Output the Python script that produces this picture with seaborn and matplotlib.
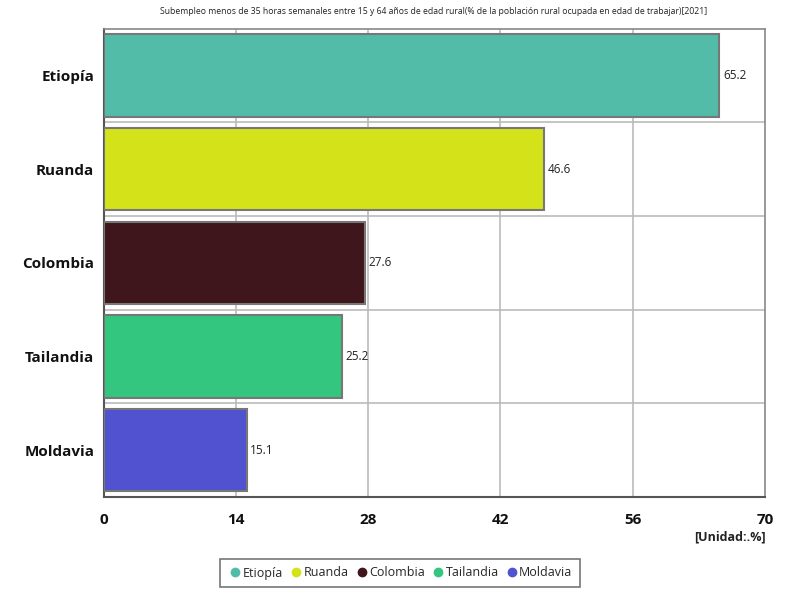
import matplotlib
matplotlib.use("Agg")
import matplotlib.pyplot as plt
import seaborn as sns
import pandas as pd
from matplotlib.lines import Line2D

countries = ["Etiopía", "Ruanda", "Colombia", "Tailandia", "Moldavia"]
values = [65.2, 46.6, 27.6, 25.2, 15.1]
colors = ["#52BCA9", "#D4E21A", "#3E161C", "#33C67E", "#5052CF"]
xticks = [0, 14, 28, 42, 56, 70]
title = "Subempleo menos de 35 horas semanales entre 15 y 64 años de edad rural(% de la población rural ocupada en edad de trabajar)[2021]"
unit_label = "[Unidad:.%]"

sns.set_theme(style="white")
plt.rcParams["font.family"] = ["Open Sans", "DejaVu Sans"]

df = pd.DataFrame({"country": countries, "value": values})

fig = plt.figure(figsize=(8, 6), dpi=100)
ax = fig.add_axes([0.13, 0.172, 0.826, 0.780])

sns.barplot(data=df, x="value", y="country", hue="country", palette=colors,
            order=countries, hue_order=countries, width=0.88, dodge=False,
            saturation=1, edgecolor="#777777", linewidth=1.5, legend=False,
            ax=ax, zorder=3)

ax.set_xlim(0, 70)
ax.set_ylim(4.5, -0.5)
ax.set_xticks(xticks)
ax.set_xticklabels([str(t) for t in xticks])
ax.tick_params(axis="y", length=0, pad=7)
ax.tick_params(axis="x", length=0, pad=12)
for lbl in ax.get_yticklabels() + ax.get_xticklabels():
    lbl.set_fontweight("bold")
    lbl.set_fontsize(11)
    lbl.set_color("#111111")
ax.set_xlabel("")
ax.set_ylabel("")

for t in xticks[1:-1]:
    ax.axvline(t, color="#BBBBBB", linewidth=1.2, zorder=1)
for b in [0.5, 1.5, 2.5, 3.5]:
    ax.axhline(b, color="#BBBBBB", linewidth=1.2, zorder=1)

for side in ["top", "right"]:
    ax.spines[side].set_color("#888888")
    ax.spines[side].set_linewidth(1.2)
for side in ["left", "bottom"]:
    ax.spines[side].set_color("#555555")
    ax.spines[side].set_linewidth(1.5)

for i, v in enumerate(values):
    ax.text(v + 0.4, i, f"{v}", va="center", ha="left", fontsize=8.5, color="#222222", zorder=4)

fig.text(0.5425, 0.988, title, ha="center", va="top", fontsize=6.2, color="#222222")
fig.text(0.957, 0.105, unit_label, ha="right", va="center", fontsize=9,
         fontweight="bold", color="#222222")

handles = [Line2D([0], [0], marker="o", linestyle="", markersize=6,
                  markerfacecolor=c, markeredgecolor=c) for c in colors]
leg = fig.legend(handles, countries, loc="center", bbox_to_anchor=(0.5, 0.045),
                 ncol=5, frameon=True, fontsize=9, handletextpad=0.0,
                 handlelength=1.2, columnspacing=0.45, fancybox=False, borderpad=0.6)
leg.get_frame().set_edgecolor("#555555")
leg.get_frame().set_linewidth(1.2)

fig.savefig("out.png", dpi=100)
